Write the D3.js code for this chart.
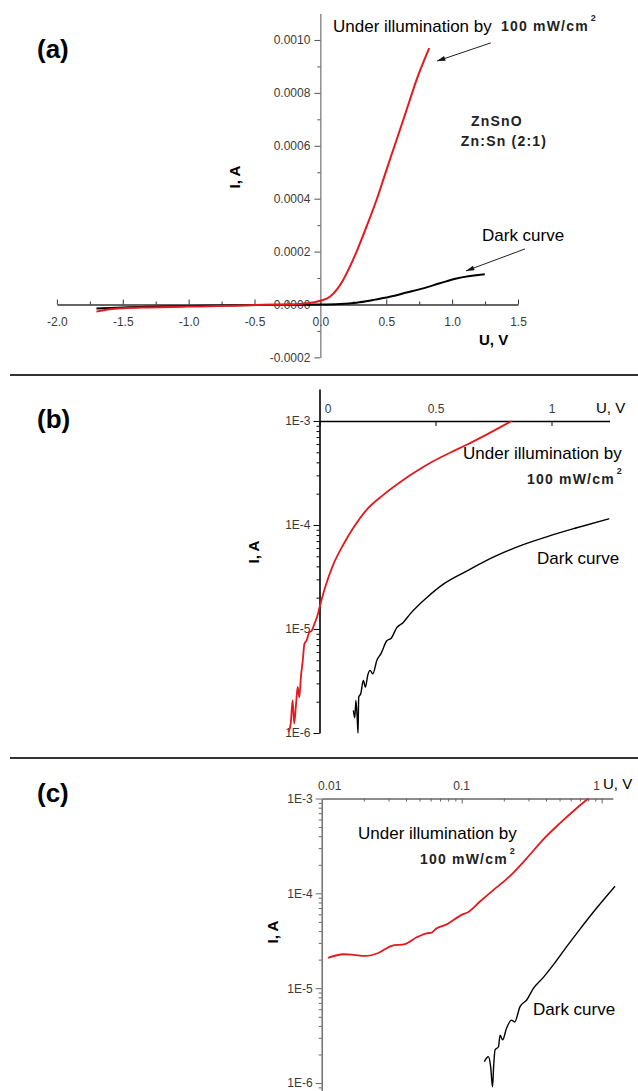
<!DOCTYPE html>
<html>
<head>
<meta charset="utf-8">
<script src="https://cdn.jsdelivr.net/npm/d3@7"></script>
<style>
  html, body { margin: 0; padding: 0; background: #fff; }
  svg { display: block; }
</style>
</head>
<body>
<script>
// --- data: [U (V), I (A)] ---

// (a) linear scale
var aIllum = [[-1.70,-2.7e-5],[-1.60,-1.8e-5],[-1.50,-1.4e-5],[-1.30,-1.1e-5],[-1.00,-8e-6],
  [-0.70,-5e-6],[-0.50,-2e-6],[-0.30,-1e-6],[-0.20,0],[-0.105,4.5e-6],[0,1.4e-5],
  [0.072,2.9e-5],[0.123,5.5e-5],[0.173,9.3e-5],[0.224,1.43e-4],[0.275,2.0e-4],
  [0.35,2.94e-4],[0.426,3.95e-4],[0.502,5.09e-4],[0.578,6.22e-4],[0.654,7.35e-4],
  [0.73,8.49e-4],[0.826,9.69e-4]];
var aDark = [[-1.70,-1.5e-5],[-1.50,-1.1e-5],[-1.20,-8e-6],[-0.90,-5e-6],[-0.60,-3e-6],
  [-0.30,-1e-6],[0,0],[0.148,2e-6],[0.275,7e-6],[0.40,1.7e-5],[0.527,2.9e-5],
  [0.654,4.5e-5],[0.78,6.1e-5],[0.907,8.0e-5],[1.033,9.8e-5],[1.248,1.14e-4]];

// (b) semi-log
var bIllum = [[-0.134,1.02e-6],[-0.124,1.23e-6],[-0.116,2.06e-6],[-0.109,1.23e-6],
  [-0.101,1.91e-6],[-0.094,2.77e-6],[-0.087,2.2e-6],[-0.080,3.5e-6],[-0.072,5.0e-6],
  [-0.065,7.2e-6],[-0.055,7.8e-6],[-0.044,9.3e-6],[-0.034,9.6e-6],[-0.022,1.12e-5],
  [-0.009,1.34e-5],[0,1.61e-5],[0.024,2.5e-5],[0.06,4.2e-5],[0.103,6.5e-5],
  [0.146,9.4e-5],[0.203,1.40e-4],[0.275,1.95e-4],[0.347,2.58e-4],[0.419,3.3e-4],
  [0.49,4.1e-4],[0.5625,4.95e-4],[0.634,5.9e-4],[0.72,7.4e-4],[0.828,1.0e-3]];
var bDark = [[0.146,1.65e-6],[0.152,1.4e-6],[0.157,2.06e-6],[0.163,1.32e-6],[0.166,1.0e-6],
  [0.169,2.2e-6],[0.178,2.4e-6],[0.189,3.2e-6],[0.198,2.76e-6],[0.208,3.6e-6],
  [0.218,4.0e-6],[0.23,3.7e-6],[0.247,4.98e-6],[0.265,5.8e-6],[0.29,7.7e-6],
  [0.31,8.2e-6],[0.333,1.03e-5],[0.36,1.15e-5],[0.39,1.39e-5],[0.462,2.0e-5],
  [0.534,2.7e-5],[0.634,3.6e-5],[0.749,4.9e-5],[0.864,6.3e-5],[0.979,7.7e-5],
  [1.109,9.4e-5],[1.249,1.15e-4]];

// (c) log-log
var cIllum = [[0.0111,2.09e-5],[0.0143,2.28e-5],[0.0168,2.25e-5],[0.0204,2.19e-5],
  [0.0254,2.35e-5],[0.0316,2.8e-5],[0.0394,2.92e-5],[0.0477,3.44e-5],[0.0562,3.79e-5],
  [0.061,3.85e-5],[0.0663,4.28e-5],[0.0781,4.71e-5],[0.1026,6.05e-5],[0.108,6.2e-5],
  [0.135,8.2e-5],[0.168,1.08e-4],[0.221,1.52e-4],[0.291,2.34e-4],[0.383,3.71e-4],
  [0.504,5.5e-4],[0.662,7.9e-4],[0.802,1.0e-3]];
var cDark = [[0.145,1.68e-6],[0.155,1.89e-6],[0.161,1.48e-6],[0.166,0.91e-6],[0.169,1.48e-6],
  [0.173,2.23e-6],[0.183,2.41e-6],[0.188,3.2e-6],[0.196,2.85e-6],[0.209,3.78e-6],
  [0.227,4.6e-6],[0.239,4.4e-6],[0.261,6.4e-6],[0.291,7.5e-6],[0.325,9.97e-6],
  [0.383,1.3e-5],[0.451,1.76e-5],[0.562,2.74e-5],[0.70,4.2e-5],[0.92,7.0e-5],
  [1.245,1.19e-4]];

// ticks
var aXTicks = [-2, -1.5, -1, -0.5, 0, 0.5, 1, 1.5];
var aXMinor = [-1.75, -1.25, -0.75, -0.25, 0.25, 0.75, 1.25];
var aYTicks = [-0.0002, 0, 0.0002, 0.0004, 0.0006, 0.0008, 0.0010];
var aYMinor = [-0.0001, 0.0001, 0.0003, 0.0005, 0.0007, 0.0009];
var bXTicks = [0, 0.5, 1];
var decades = [1e-6, 1e-5, 1e-4, 1e-3];
var cXTicks = [0.1, 1];
var cXLabels = [0.01, 0.1, 1];

// annotation arrows in panel (a), data coordinates [from, to]
var arrowIllum = [[1.294, 9.89e-4], [0.885, 9.2e-4]];
var arrowDark = [[1.553, 2.10e-4], [1.105, 1.27e-4]];

var FONT = "'Liberation Sans', Arial, sans-serif";
var RED = "#e3191e";

var svg = d3.select("body").append("svg")
  .attr("width", 638).attr("height", 1091)
  .style("font-family", FONT);

svg.append("rect").attr("width", 638).attr("height", 1091).attr("fill", "#fff");

var defs = svg.append("defs");
defs.append("marker")
  .attr("id", "arr")
  .attr("viewBox", "0 0 10 6")
  .attr("refX", 10).attr("refY", 3)
  .attr("markerWidth", 11).attr("markerHeight", 5)
  .attr("markerUnits", "userSpaceOnUse")
  .attr("orient", "auto")
  .append("path").attr("d", "M0,0L10,3L0,6Z").attr("fill", "#111");

function minorLog(lo, hi) {
  var out = [];
  for (var e = lo; e < hi; e++) {
    for (var k = 2; k <= 9; k++) out.push(k * Math.pow(10, e));
  }
  return out;
}

function styleAxis(g, color, size) {
  g.attr("font-family", FONT).attr("font-size", size || 12).attr("color", color);
  g.selectAll("text").attr("fill", "#3a3a3a");
}

function drawLine(data, x, y, color, width) {
  var line = d3.line()
    .curve(d3.curveMonotoneX)
    .x(function(d) { return x(d[0]); })
    .y(function(d) { return y(d[1]); });
  svg.append("path")
    .datum(data)
    .attr("d", line)
    .attr("fill", "none")
    .attr("stroke", color)
    .attr("stroke-width", width)
    .attr("stroke-linejoin", "round");
}

function label(x, y, str, opts) {
  opts = opts || {};
  var t = svg.append("text")
    .attr("x", x).attr("y", y)
    .attr("font-size", opts.size || 17)
    .attr("font-weight", opts.bold ? "bold" : "normal")
    .attr("text-anchor", opts.anchor || "start")
    .attr("fill", opts.color || "#000")
    .text(str);
  if (opts.spacing) t.attr("letter-spacing", opts.spacing);
  return t;
}

function power(x, y) {
  var t = label(x, y, "100 mW/cm", { size: 14, bold: true, spacing: 1.2, color: "#222" });
  t.append("tspan").attr("font-size", 9).attr("dy", -10).attr("dx", 2).text("2");
}

function yTitle(x, y) {
  svg.append("text")
    .attr("transform", "translate(" + x + "," + y + ") rotate(-90)")
    .attr("text-anchor", "middle")
    .attr("dy", "0.35em")
    .attr("font-size", 15).attr("font-weight", "bold")
    .text("I, A");
}

function panelTag(y, str) {
  label(37, y, str, { size: 26, bold: true });
}

// ---------------- panel (a) ----------------
var xA = d3.scaleLinear().domain([-2, 1.5]).range([56.9, 518]);
var yA = d3.scaleLinear().domain([-0.0002, 0.0011]).range([357.4, 13.5]);

var gAx = svg.append("g").attr("transform", "translate(0," + yA(0) + ")")
  .call(d3.axisBottom(xA).tickValues(aXTicks).tickSize(-5).tickSizeOuter(0)
    .tickPadding(13).tickFormat(function(d) { return d.toFixed(1); }));
styleAxis(gAx, "#333");
gAx.select(".domain").attr("stroke-width", 1.4);
var gAxm = svg.append("g").attr("transform", "translate(0," + yA(0) + ")")
  .call(d3.axisBottom(xA).tickValues(aXMinor).tickSize(-3).tickFormat(""));
gAxm.attr("color", "#333").select(".domain").remove();

var gAy = svg.append("g").attr("transform", "translate(" + xA(0) + ",0)")
  .call(d3.axisLeft(yA).tickValues(aYTicks).tickSize(6).tickSizeOuter(0)
    .tickPadding(4).tickFormat(function(d) { return d.toFixed(4); }));
styleAxis(gAy, "#555");
var gAym = svg.append("g").attr("transform", "translate(" + xA(0) + ",0)")
  .call(d3.axisLeft(yA).tickValues(aYMinor).tickSize(3).tickFormat(""));
gAym.attr("color", "#555").select(".domain").remove();

drawLine(aDark, xA, yA, "#000", 2);
drawLine(aIllum, xA, yA, RED, 2);

[arrowIllum, arrowDark].forEach(function(a) {
  svg.append("line")
    .attr("x1", xA(a[0][0])).attr("y1", yA(a[0][1]))
    .attr("x2", xA(a[1][0])).attr("y2", yA(a[1][1]))
    .attr("stroke", "#222").attr("stroke-width", 1)
    .attr("marker-end", "url(#arr)");
});

panelTag(58, "(a)");
yTitle(235, 177);
label(479, 345, "U, V", { size: 15, bold: true });
label(333, 32, "Under illumination by");
power(501, 31);
label(497, 126, "ZnSnO", { size: 14, bold: true, spacing: 1.2, anchor: "middle", color: "#222" });
label(504, 146, "Zn:Sn (2:1)", { size: 14, bold: true, spacing: 1.2, anchor: "middle", color: "#222" });
label(482, 241, "Dark curve");

// dividers
svg.append("line").attr("x1", 10).attr("x2", 638).attr("y1", 375).attr("y2", 375)
  .attr("stroke", "#333").attr("stroke-width", 2);
svg.append("line").attr("x1", 10).attr("x2", 638).attr("y1", 758).attr("y2", 758)
  .attr("stroke", "#333").attr("stroke-width", 2);

// ---------------- panel (b) ----------------
var xB = d3.scaleLinear().domain([0, 1.25]).range([319.5, 609.5]);
var yB = d3.scaleLog().domain([1e-6, 2.03e-3]).range([733, 389]);

var gBx = svg.append("g").attr("transform", "translate(0," + yB(1e-3) + ")")
  .call(d3.axisTop(xB).tickValues(bXTicks).tickSize(-5).tickSizeOuter(0)
    .tickPadding(8).tickFormat(function(d) { return String(d); }));
styleAxis(gBx, "#000");
gBx.select(".domain").attr("stroke-width", 1.6);
gBx.selectAll(".tick").filter(function(d) { return d === 0; })
  .select("text").attr("dx", 8);

var gBy = svg.append("g").attr("transform", "translate(" + xB(0) + ",0)")
  .call(d3.axisLeft(yB).tickValues(decades).tickSize(6).tickSizeOuter(0)
    .tickPadding(3).tickFormat(function(d) { return "1E" + Math.round(Math.log10(d)); }));
styleAxis(gBy, "#000");
gBy.select(".domain").attr("stroke-width", 1.6);
var gBym = svg.append("g").attr("transform", "translate(" + xB(0) + ",0)")
  .call(d3.axisLeft(yB).tickValues(minorLog(-6, -3)).tickSize(3).tickFormat(""));
gBym.attr("color", "#000").select(".domain").remove();

drawLine(bDark, xB, yB, "#000", 1.4);
drawLine(bIllum, xB, yB, RED, 1.8);

panelTag(428, "(b)");
yTitle(254, 552);
label(596, 413, "U, V", { size: 15 });
label(463, 459, "Under illumination by");
power(527, 484);
label(537, 564, "Dark curve");

// ---------------- panel (c) ----------------
var xC = d3.scaleLog().domain([0.01, 1.2]).range([321.7, 612.8]);
var yC = d3.scaleLog().domain([8.24e-7, 1e-3]).range([1091, 798.5]);

var gCx = svg.append("g").attr("transform", "translate(0," + yC(1e-3) + ")")
  .call(d3.axisTop(xC).tickValues(cXTicks).tickSize(-5).tickSizeOuter(0).tickFormat(""));
gCx.attr("color", "#666");
gCx.select(".domain").attr("stroke-width", 1.4);
var gCxm = svg.append("g").attr("transform", "translate(0," + yC(1e-3) + ")")
  .call(d3.axisTop(xC).tickValues(minorLog(-2, 0)).tickSize(-3).tickFormat(""));
gCxm.attr("color", "#666").select(".domain").remove();

svg.selectAll("text.cx")
  .data(cXLabels)
  .enter().append("text")
  .attr("class", "cx")
  .attr("x", function(d) { return xC(d); })
  .attr("dx", function(d) { return d === 0.01 ? 8 : (d === 1 ? -5 : 0); })
  .attr("y", yC(1e-3) - 9)
  .attr("text-anchor", "middle")
  .attr("font-size", 12)
  .attr("fill", "#3a3a3a")
  .text(function(d) { return String(d); });

var gCy = svg.append("g").attr("transform", "translate(" + xC(0.01) + ",0)")
  .call(d3.axisLeft(yC).tickValues(decades).tickSize(6).tickSizeOuter(0)
    .tickPadding(3).tickFormat(function(d) { return "1E" + Math.round(Math.log10(d)); }));
styleAxis(gCy, "#666");
gCy.select(".domain").attr("stroke-width", 1.4);
var gCym = svg.append("g").attr("transform", "translate(" + xC(0.01) + ",0)")
  .call(d3.axisLeft(yC).tickValues(minorLog(-6, -3).concat([9e-7])).tickSize(3).tickFormat(""));
gCym.attr("color", "#666").select(".domain").remove();

drawLine(cDark, xC, yC, "#000", 1.4);
drawLine(cIllum, xC, yC, RED, 1.8);

panelTag(802, "(c)");
yTitle(273, 932);
label(603, 789, "U, V", { size: 15 });
label(358, 839, "Under illumination by");
power(420, 864);
label(533, 1015, "Dark curve");
</script>
</body>
</html>
